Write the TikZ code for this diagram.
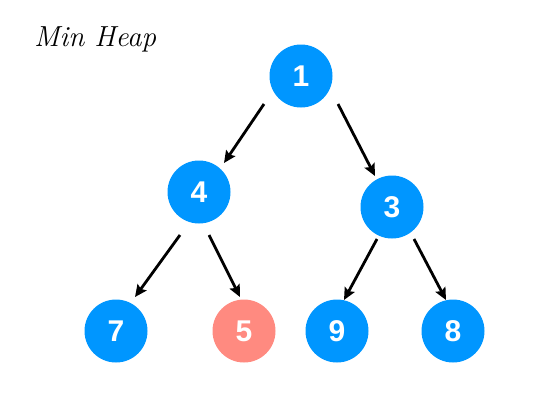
\documentclass[tikz,border=0pt]{standalone}
\usepackage{fontspec}
\setmainfont{Liberation Sans}
\usetikzlibrary{arrows.meta,calc}
\definecolor{heapblue}{RGB}{0,150,255}
\definecolor{heapred}{RGB}{255,138,128}
\newfontfamily\handfont{Latin Modern Roman}
\tikzset{
  x=1pt,y=-1pt,
  heapnode/.style={circle,fill=heapblue,minimum size=63pt,inner sep=0pt,text=white,font=\fontsize{30}{30}\selectfont\bfseries},
  rednode/.style={heapnode,fill=heapred},
  arr/.style={line width=2.8pt,-{Stealth[length=12pt,width=11pt,inset=2pt]}}
}
\begin{document}
\begin{tikzpicture}
\useasboundingbox (0,0) rectangle (538,408);
\node[anchor=base west,inner sep=0pt,font=\handfont\itshape\fontsize{29}{29}\selectfont] (title) at (34,46) {Min Heap};
\node[heapnode] (n1) at (301,76) {1};
\node[heapnode] (n4) at (199,192) {4};
\node[heapnode] (n3) at (392,207) {3};
\node[heapnode] (n7) at (116,331) {7};
\node[rednode] (n5) at (244,331) {5};
\node[heapnode] (n9) at (337,331) {9};
\node[heapnode] (n8) at (453,331) {8};
\draw[arr] ($(n1)+(-37,28)$) -- ($(n4)+(25,-29)$);
\draw[arr] ($(n1)+(37,28)$) -- ($(n3)+(-17,-31)$);
\draw[arr] ($(n4)+(-19,43)$) -- ($(n7)+(19,-34)$);
\draw[arr] ($(n4)+(10,43)$) -- ($(n5)+(-4,-34)$);
\draw[arr] ($(n3)+(-15,32)$) -- ($(n9)+(7,-31)$);
\draw[arr] ($(n3)+(22,32)$) -- ($(n8)+(-7,-31)$);
\end{tikzpicture}
\end{document}
